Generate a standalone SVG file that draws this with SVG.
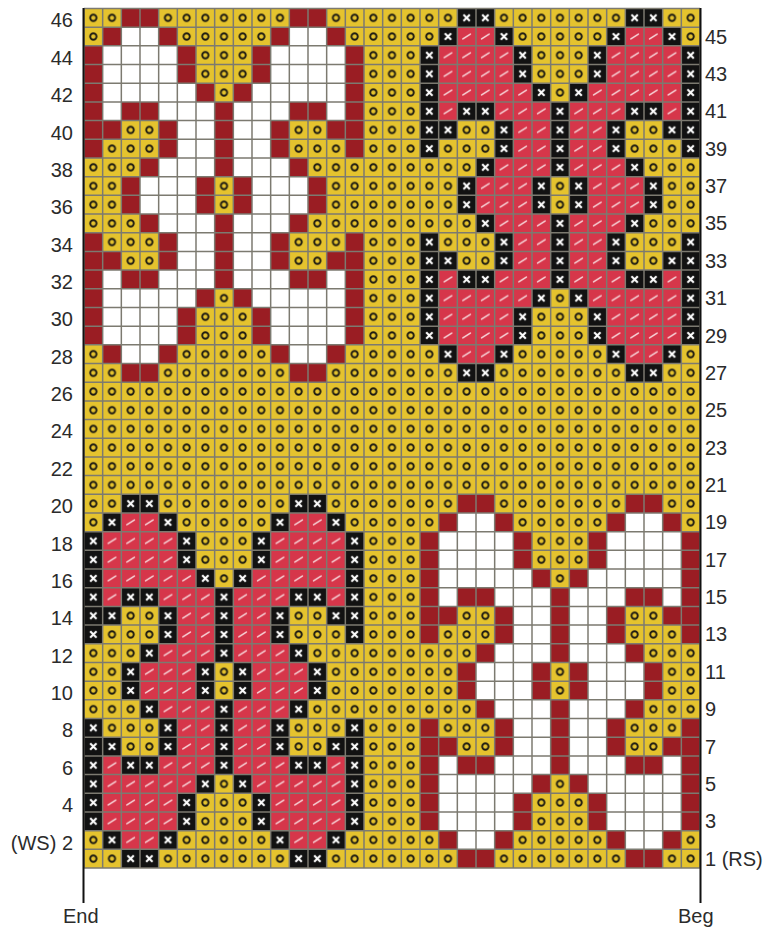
<svg xmlns="http://www.w3.org/2000/svg" width="765" height="929" viewBox="0 0 765 929">
<style>
.lbl{font-family:"Liberation Sans",Arial,sans-serif;font-size:20px;fill:#2b2b2b}
.l{text-anchor:end}
.r{text-anchor:start}
.grid{fill:none;stroke:#7c7a70;stroke-width:.08}
.edge{stroke:#111;stroke-width:2;fill:none}
</style>
<defs>
<pattern id="py" patternUnits="userSpaceOnUse" width="1" height="1">
<rect width="1" height="1" fill="#E5C32E"/>
<circle cx=".5" cy=".5" r=".17" fill="none" stroke="#1c1a12" stroke-width=".1"/>
</pattern>
<pattern id="px" patternUnits="userSpaceOnUse" width="1" height="1">
<rect width="1" height="1" fill="#121212"/>
<path d="M.33 .33L.67 .67M.67 .33L.33 .67" stroke="#fff" stroke-width=".11"/>
</pattern>
<pattern id="ps" patternUnits="userSpaceOnUse" width="1" height="1">
<rect width="1" height="1" fill="#D6364A"/>
<path d="M.3 .63L.7 .37" stroke="#F7D5D9" stroke-width=".08" stroke-linecap="round"/>
</pattern>
<path id="m1" d="M2 0h2v1h-2z M11 0h2v1h-2z M1 1h1v1h-1z M4 1h1v1h-1z M10 1h1v1h-1z M13 1h1v1h-1z M0 2h1v2h-1z M5 2h1v2h-1z M9 2h1v2h-1z M14 2h1v2h-1z M0 4h1v1h-1z M6 4h1v1h-1z M8 4h1v1h-1z M14 4h1v1h-1z M0 5h1v1h-1z M2 5h2v1h-2z M7 5h1v1h-1z M11 5h2v1h-2z M14 5h1v1h-1z M0 6h2v1h-2z M4 6h1v1h-1z M7 6h1v1h-1z M10 6h1v1h-1z M13 6h2v1h-2z M0 7h1v1h-1z M4 7h1v1h-1z M7 7h1v1h-1z M10 7h1v1h-1z M14 7h1v1h-1z M3 8h1v1h-1z M7 8h1v1h-1z M11 8h1v1h-1z M2 9h1v2h-1z M6 9h1v2h-1z M8 9h1v2h-1z M12 9h1v2h-1z M3 11h1v1h-1z M7 11h1v1h-1z M11 11h1v1h-1z M0 12h1v1h-1z M4 12h1v1h-1z M7 12h1v1h-1z M10 12h1v1h-1z M14 12h1v1h-1z M0 13h2v1h-2z M4 13h1v1h-1z M7 13h1v1h-1z M10 13h1v1h-1z M13 13h2v1h-2z M0 14h1v1h-1z M2 14h2v1h-2z M7 14h1v1h-1z M11 14h2v1h-2z M14 14h1v1h-1z M0 15h1v1h-1z M6 15h1v1h-1z M8 15h1v1h-1z M14 15h1v1h-1z M0 16h1v2h-1z M5 16h1v2h-1z M9 16h1v2h-1z M14 16h1v2h-1z M1 18h1v1h-1z M4 18h1v1h-1z M10 18h1v1h-1z M13 18h1v1h-1z M2 19h2v1h-2z M11 19h2v1h-2z"/>
<path id="m2" d="M2 1h2v1h-2z M11 1h2v1h-2z M1 2h4v2h-4z M10 2h4v2h-4z M1 4h5v1h-5z M9 4h5v1h-5z M1 5h1v1h-1z M4 5h3v1h-3z M8 5h3v1h-3z M13 5h1v1h-1z M5 6h2v2h-2z M8 6h2v2h-2z M4 8h3v1h-3z M8 8h3v1h-3z M3 9h3v2h-3z M9 9h3v2h-3z M4 11h3v1h-3z M8 11h3v1h-3z M5 12h2v2h-2z M8 12h2v2h-2z M1 14h1v1h-1z M4 14h3v1h-3z M8 14h3v1h-3z M13 14h1v1h-1z M1 15h5v1h-5z M9 15h5v1h-5z M1 16h4v2h-4z M10 16h4v2h-4z M2 18h2v1h-2z M11 18h2v1h-2z"/>
</defs>
<g id="chart" transform="translate(84 8.5) scale(18.6667 18.6848)">
<rect id="background" width="33" height="46" fill="url(#py)"/>
<g id="motif-top-left">
<use href="#m1" fill="#9A1D23"/>
<use href="#m2" fill="#FFFFFF"/>
</g>
<g id="motif-top-right">
<use href="#m1" x="18" fill="url(#px)"/>
<use href="#m2" x="18" fill="url(#ps)"/>
</g>
<g id="motif-bottom-left">
<use href="#m1" y="26" fill="url(#px)"/>
<use href="#m2" y="26" fill="url(#ps)"/>
</g>
<g id="motif-bottom-right">
<use href="#m1" x="18" y="26" fill="#9A1D23"/>
<use href="#m2" x="18" y="26" fill="#FFFFFF"/>
</g>
<path class="grid" d="M0 0V46M1 0V46M2 0V46M3 0V46M4 0V46M5 0V46M6 0V46M7 0V46M8 0V46M9 0V46M10 0V46M11 0V46M12 0V46M13 0V46M14 0V46M15 0V46M16 0V46M17 0V46M18 0V46M19 0V46M20 0V46M21 0V46M22 0V46M23 0V46M24 0V46M25 0V46M26 0V46M27 0V46M28 0V46M29 0V46M30 0V46M31 0V46M32 0V46M33 0V46 M0 0H33M0 1H33M0 2H33M0 3H33M0 4H33M0 5H33M0 6H33M0 7H33M0 8H33M0 9H33M0 10H33M0 11H33M0 12H33M0 13H33M0 14H33M0 15H33M0 16H33M0 17H33M0 18H33M0 19H33M0 20H33M0 21H33M0 22H33M0 23H33M0 24H33M0 25H33M0 26H33M0 27H33M0 28H33M0 29H33M0 30H33M0 31H33M0 32H33M0 33H33M0 34H33M0 35H33M0 36H33M0 37H33M0 38H33M0 39H33M0 40H33M0 41H33M0 42H33M0 43H33M0 44H33M0 45H33M0 46H33"/>
</g>
<g id="edges">
<path class="edge" d="M83.5 8V903M700.5 8V903"/>
</g>
<g id="labels-left" class="lbl l">
<text x="73" y="27.3">46</text>
<text x="73" y="64.7">44</text>
<text x="73" y="102.1">42</text>
<text x="73" y="139.5">40</text>
<text x="73" y="176.8">38</text>
<text x="73" y="214.2">36</text>
<text x="73" y="251.6">34</text>
<text x="73" y="288.9">32</text>
<text x="73" y="326.3">30</text>
<text x="73" y="363.7">28</text>
<text x="73" y="401">26</text>
<text x="73" y="438.4">24</text>
<text x="73" y="475.8">22</text>
<text x="73" y="513.2">20</text>
<text x="73" y="550.5">18</text>
<text x="73" y="587.9">16</text>
<text x="73" y="625.3">14</text>
<text x="73" y="662.6">12</text>
<text x="73" y="700">10</text>
<text x="73" y="737.4">8</text>
<text x="73" y="774.7">6</text>
<text x="73" y="812.1">4</text>
<text x="73" y="849.5">(WS) 2</text>
</g>
<g id="labels-right" class="lbl r">
<text x="705" y="43.5">45</text>
<text x="705" y="80.9">43</text>
<text x="705" y="118.3">41</text>
<text x="705" y="155.6">39</text>
<text x="705" y="193">37</text>
<text x="705" y="230.4">35</text>
<text x="705" y="267.7">33</text>
<text x="705" y="305.1">31</text>
<text x="705" y="342.5">29</text>
<text x="705" y="379.9">27</text>
<text x="705" y="417.2">25</text>
<text x="705" y="454.6">23</text>
<text x="705" y="492">21</text>
<text x="705" y="529.3">19</text>
<text x="705" y="566.7">17</text>
<text x="705" y="604.1">15</text>
<text x="705" y="641.4">13</text>
<text x="705" y="678.8">11</text>
<text x="705" y="716.2">9</text>
<text x="705" y="753.6">7</text>
<text x="705" y="790.9">5</text>
<text x="705" y="828.3">3</text>
<text x="705" y="865.7">1 (RS)</text>
</g>
<g id="ends" class="lbl">
<text x="63" y="923">End</text>
<text x="678" y="923">Beg</text>
</g>
</svg>
